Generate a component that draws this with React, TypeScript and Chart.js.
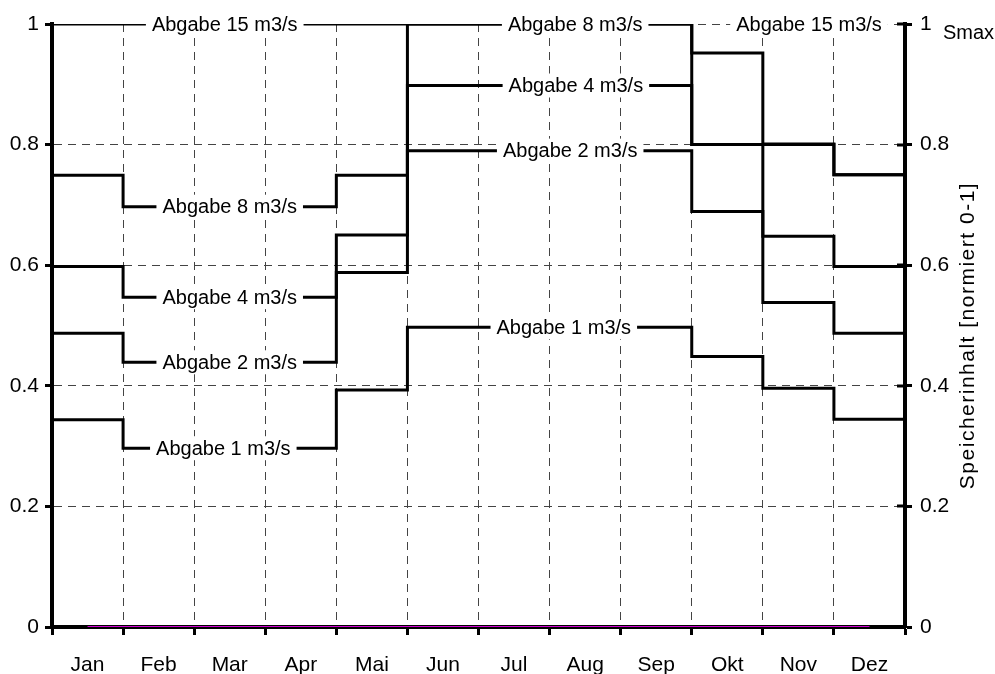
import React, { useEffect, useRef } from 'react';
import { Chart, registerables } from 'chart.js';

Chart.register(...registerables);

const FONT = 'Arial, "Liberation Sans", Helvetica, sans-serif';

const months = ['Jan', 'Feb', 'Mar', 'Apr', 'Mai', 'Jun', 'Jul', 'Aug', 'Sep', 'Okt', 'Nov', 'Dez'];

// normalized storage content per month for each release (Abgabe)
const abgabe15 = [1, 1, 1, 1, 1, 1, 1, 1, 1, 0.952, 0.801, 0.75];
const abgabe8 = [0.749, 0.697, 0.697, 0.697, 0.749, 1, 1, 1, 1, 0.8, 0.8, 0.75];
const abgabe4 = [0.598, 0.547, 0.547, 0.547, 0.65, 0.898, 0.898, 0.898, 0.898, 0.8, 0.648, 0.598];
const abgabe2 = [0.487, 0.439, 0.439, 0.439, 0.588, 0.79, 0.79, 0.79, 0.79, 0.689, 0.538, 0.487];
const abgabe1 = [0.3435, 0.2965, 0.2965, 0.2965, 0.393, 0.497, 0.497, 0.497, 0.497, 0.4485, 0.396, 0.3445];
const zeroLine = [0, 0, 0, 0, 0, 0, 0, 0, 0, 0, 0, 0];

const yMin = 0;
const yMax = 1;
const yStep = 0.2;

const rightAxisTitle = 'Speicherinhalt [normiert 0-1]';
const smaxLabel = 'Smax';

// inline labels: text, month position (x in month units), series value
const inlineLabels = [
  { text: 'Abgabe 15 m3/s', x: 2.43, y: abgabe15[2] },
  { text: 'Abgabe 8 m3/s', x: 7.36, y: abgabe8[7] },
  { text: 'Abgabe 15 m3/s', x: 10.65, y: yMax },
  { text: 'Abgabe 8 m3/s', x: 2.5, y: abgabe8[2] },
  { text: 'Abgabe 4 m3/s', x: 2.5, y: abgabe4[2] },
  { text: 'Abgabe 2 m3/s', x: 2.5, y: abgabe2[2] },
  { text: 'Abgabe 1 m3/s', x: 2.41, y: abgabe1[2] },
  { text: 'Abgabe 4 m3/s', x: 7.37, y: abgabe4[7] },
  { text: 'Abgabe 2 m3/s', x: 7.29, y: abgabe2[7] },
  { text: 'Abgabe 1 m3/s', x: 7.2, y: abgabe1[7] },
];

const toSteps = (vals: number[]) =>
  vals.map((v, i) => ({ x: i, y: v })).concat([{ x: vals.length, y: vals[vals.length - 1] }]);

const isInt = (v: number) => Math.abs(v - Math.round(v)) < 1e-6;
const fmtY = (v: any) => String(Math.round(Number(v) * 10) / 10);

const labelPlugin = {
  id: 'inlineLabels',
  afterDatasetsDraw(chart: any) {
    const { ctx, scales } = chart;
    const xs = scales.x;
    const ys = scales.y;
    ctx.save();
    ctx.font = `20px ${FONT}`;
    ctx.textAlign = 'center';
    ctx.textBaseline = 'middle';
    for (const l of inlineLabels) {
      const px = xs.getPixelForValue(l.x);
      const py = ys.getPixelForValue(l.y);
      const w = ctx.measureText(l.text).width;
      ctx.fillStyle = '#fff';
      ctx.fillRect(px - w / 2 - 6, py - 12, w + 12, 24);
      ctx.fillStyle = '#000';
      ctx.fillText(l.text, px, py + 1);
    }
    // inner part of right-axis tick marks
    const y2 = scales.y2;
    ctx.strokeStyle = '#000';
    ctx.lineWidth = 3;
    for (const t of y2.ticks) {
      const py = Math.round(y2.getPixelForValue(t.value));
      ctx.beginPath();
      ctx.moveTo(y2.left - 8, py);
      ctx.lineTo(y2.left, py);
      ctx.stroke();
    }
    ctx.restore();
  },
  afterDraw(chart: any) {
    const { ctx, scales, chartArea } = chart;
    const y2 = scales.y2;
    ctx.save();
    ctx.fillStyle = '#000';
    ctx.font = `20px ${FONT}`;
    ctx.textAlign = 'left';
    ctx.textBaseline = 'middle';
    ctx.fillText(smaxLabel, y2.left + 38, y2.getPixelForValue(yMax) + 9);
    ctx.translate(y2.left + 63, (chartArea.top + chartArea.bottom) / 2 + 10);
    ctx.rotate(-Math.PI / 2);
    ctx.textAlign = 'center';
    ctx.font = `21px ${FONT}`;
    try {
      (ctx as any).letterSpacing = '1.5px';
    } catch (e) {}
    ctx.fillText(rightAxisTitle, 0, 0);
    ctx.restore();
  },
};

export default function App() {
  const canvasRef = useRef<HTMLCanvasElement | null>(null);

  useEffect(() => {
    document.body.style.margin = '0';
    document.body.style.overflow = 'hidden';
    const canvas = canvasRef.current;
    if (!canvas) return;
    Chart.defaults.font.family = FONT;

    const stepDs = (label: string, vals: number[]) => ({
      label,
      data: toSteps(vals),
      stepped: true,
      borderColor: '#000',
      borderWidth: 3,
      pointRadius: 0,
      fill: false,
      borderJoinStyle: 'miter',
      borderCapStyle: 'butt',
      xAxisID: 'x',
      yAxisID: 'y',
    });

    const chart = new Chart(canvas, {
      type: 'line',
      data: {
        datasets: [
          stepDs('Abgabe 15 m3/s', abgabe15),
          stepDs('Abgabe 8 m3/s', abgabe8),
          stepDs('Abgabe 4 m3/s', abgabe4),
          stepDs('Abgabe 2 m3/s', abgabe2),
          stepDs('Abgabe 1 m3/s', abgabe1),
          {
            label: 'Null',
            data: zeroLine.map((v, i) => ({ x: i + 0.5, y: v })),
            borderColor: '#d000d0',
            borderWidth: 2,
            pointRadius: 0,
            fill: false,
            xAxisID: 'x',
            yAxisID: 'y',
          } as any,
        ] as any,
      },
      options: {
        animation: false,
        responsive: true,
        maintainAspectRatio: false,
        layout: { padding: { top: 24, left: 0, right: 0, bottom: 0 } },
        plugins: { legend: { display: false }, tooltip: { enabled: false } },
        scales: {
          x: {
            type: 'linear',
            position: 'bottom',
            min: 0,
            max: months.length,
            afterFit: (s: any) => {
              s.height = 47;
            },
            border: { display: true, color: '#000', width: 4, dash: [8, 6] },
            grid: {
              color: '#444',
              lineWidth: (c: any) => (isInt(c.tick.value) ? 1 : 0),
              drawTicks: true,
              tickLength: 8,
              tickWidth: 3,
              tickColor: (c: any) => (isInt(c.tick.value) ? '#000' : 'rgba(0,0,0,0)'),
            },
            ticks: {
              stepSize: 0.5,
              autoSkip: false,
              maxRotation: 0,
              minRotation: 0,
              padding: 18,
              color: '#000',
              font: { size: 21, family: FONT },
              callback: (v: any) => (isInt(Number(v)) ? '' : months[Math.floor(Number(v))]),
            },
          },
          y: {
            type: 'linear',
            position: 'left',
            min: yMin,
            max: yMax,
            afterFit: (s: any) => {
              s.width = 52;
            },
            border: { display: true, color: '#000', width: 4, dash: [8, 6] },
            grid: { color: '#444', lineWidth: 1, tickLength: 7, tickWidth: 3, tickColor: '#000' },
            ticks: { stepSize: yStep, padding: 6, color: '#000', font: { size: 21, family: FONT }, callback: fmtY },
          },
          y2: {
            type: 'linear',
            position: 'right',
            min: yMin,
            max: yMax,
            afterFit: (s: any) => {
              s.width = 90;
            },
            border: { display: true, color: '#000', width: 4 },
            grid: { drawOnChartArea: false, tickLength: 7, tickWidth: 3, tickColor: '#000' },
            ticks: { stepSize: yStep, padding: 8, color: '#000', font: { size: 21, family: FONT }, callback: fmtY },
          },
        },
      } as any,
      plugins: [labelPlugin],
    });

    return () => chart.destroy();
  }, []);

  return (
    <div style={{ width: 995, height: 674, position: 'relative' }}>
      <canvas ref={canvasRef} />
    </div>
  );
}
